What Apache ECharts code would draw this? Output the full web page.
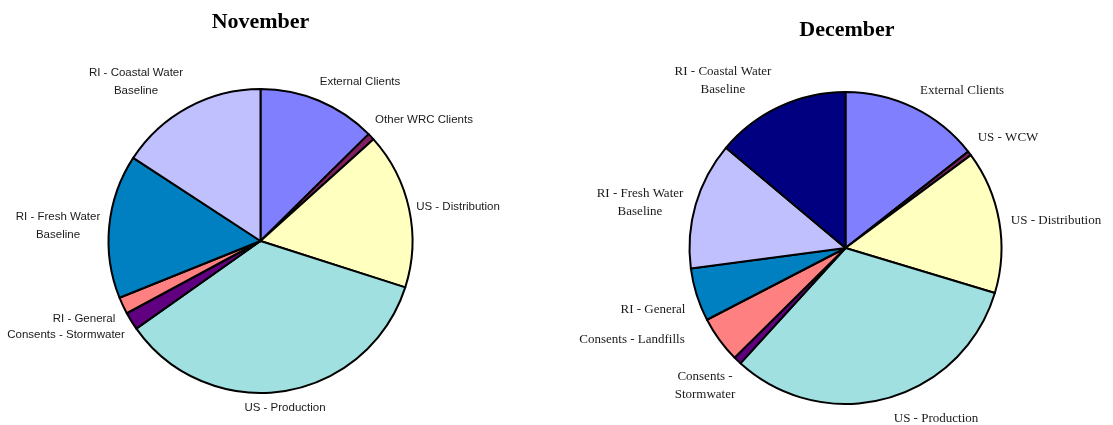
<!DOCTYPE html>
<html>
<head>
<meta charset="utf-8">
<script src="https://cdn.jsdelivr.net/npm/echarts@6/dist/echarts.min.js"></script>
<style>
html,body{margin:0;padding:0;background:#fff;}
#chart{width:1113px;height:425px;}
</style>
</head>
<body>
<div id="chart"></div>
<script>
// ---- Data ----
const novCategories = ['External Clients', 'Other WRC Clients', 'US - Distribution', 'US - Production',
  'Consents - Stormwater', 'RI - General', 'RI - Fresh Water Baseline', 'RI - Coastal Water Baseline'];
const novValues = [12.6, 0.75, 16.6, 35.3, 1.9, 1.8, 15.3, 15.8];

const decCategories = ['External Clients', 'US - WCW', 'US - Distribution', 'US - Production',
  'Consents - Stormwater', 'Consents - Landfills', 'RI - General', 'RI - Fresh Water Baseline',
  'RI - Coastal Water Baseline'];
const decValues = [14.4, 0.45, 14.8, 32.1, 0.83, 4.8, 5.5, 13.2, 13.9];

// ---- Styles / layout ----
const novColors = ['#8080FF', '#802060', '#FFFFC0', '#A0E0E0', '#600080', '#FF8080', '#0080C0', '#C0C0FF'];
const decColors = ['#8080FF', '#802060', '#FFFFC0', '#A0E0E0', '#600080', '#FF8080', '#0080C0', '#C0C0FF', '#000080'];

// label anchor points (centre of each label block), by category name
const novLabelPos = {
  'External Clients': [360, 82],
  'Other WRC Clients': [424, 120],
  'US - Distribution': [458, 207],
  'US - Production': [285, 408],
  'Consents - Stormwater': [66, 335],
  'RI - General': [84, 319],
  'RI - Fresh Water Baseline': [58, 226],
  'RI - Coastal Water Baseline': [136, 82]
};
const decLabelPos = {
  'External Clients': [962, 91],
  'US - WCW': [1008, 138],
  'US - Distribution': [1056, 221],
  'US - Production': [936, 419],
  'Consents - Stormwater': [705, 386],
  'Consents - Landfills': [632, 340],
  'RI - General': [653, 310],
  'RI - Fresh Water Baseline': [640, 203],
  'RI - Coastal Water Baseline': [723, 81]
};
const wrap = {
  'RI - Coastal Water Baseline': 'RI - Coastal Water\nBaseline',
  'RI - Fresh Water Baseline': 'RI - Fresh Water\nBaseline'
};
const decWrap = Object.assign({}, wrap, {'Consents - Stormwater': 'Consents -\nStormwater'});

const sansFont = "'Liberation Sans Narrow', 'Arial Narrow', 'Liberation Sans', Arial, sans-serif";
const serifFont = "'Liberation Serif', 'Times New Roman', serif";

function makePie(name, cats, vals, colors, center, radius, posMap, wrapMap, font, size) {
  return {
    type: 'pie',
    name: name,
    center: center,
    radius: radius,
    startAngle: 90,
    clockwise: true,
    avoidLabelOverlap: false,
    animation: false,
    itemStyle: {borderColor: '#000', borderWidth: 2},
    label: {
      show: true,
      position: 'outside',
      fontFamily: font,
      fontSize: size,
      color: '#1a1a1a',
      lineHeight: 18,
      align: 'center',
      formatter: p => wrapMap[p.name] || p.name
    },
    labelLine: {show: false},
    labelLayout: function (params) {
      const nm = cats[params.dataIndex];
      const p = posMap[nm];
      return {x: p[0], y: p[1], align: 'center', verticalAlign: 'middle'};
    },
    emphasis: {disabled: true},
    data: cats.map((c, i) => ({name: c, value: vals[i], itemStyle: {color: colors[i]}}))
  };
}

const chart = echarts.init(document.getElementById('chart'), null, {renderer: 'canvas'});
chart.setOption({
  backgroundColor: '#fff',
  animation: false,
  title: [
    {text: 'November', left: 255.5, top: 6, textAlign: 'center',
      textStyle: {fontFamily: serifFont, fontWeight: 'bold', fontSize: 22, color: '#000'}},
    {text: 'December', left: 842, top: 14, textAlign: 'center',
      textStyle: {fontFamily: serifFont, fontWeight: 'bold', fontSize: 22, color: '#000'}}
  ],
  series: [
    makePie('November', novCategories, novValues, novColors, [260.5, 241], 152,
      novLabelPos, wrap, sansFont, 11.5),
    makePie('December', decCategories, decValues, decColors, [845.5, 248], 156,
      decLabelPos, decWrap, serifFont, 13)
  ]
});
</script>
</body>
</html>
